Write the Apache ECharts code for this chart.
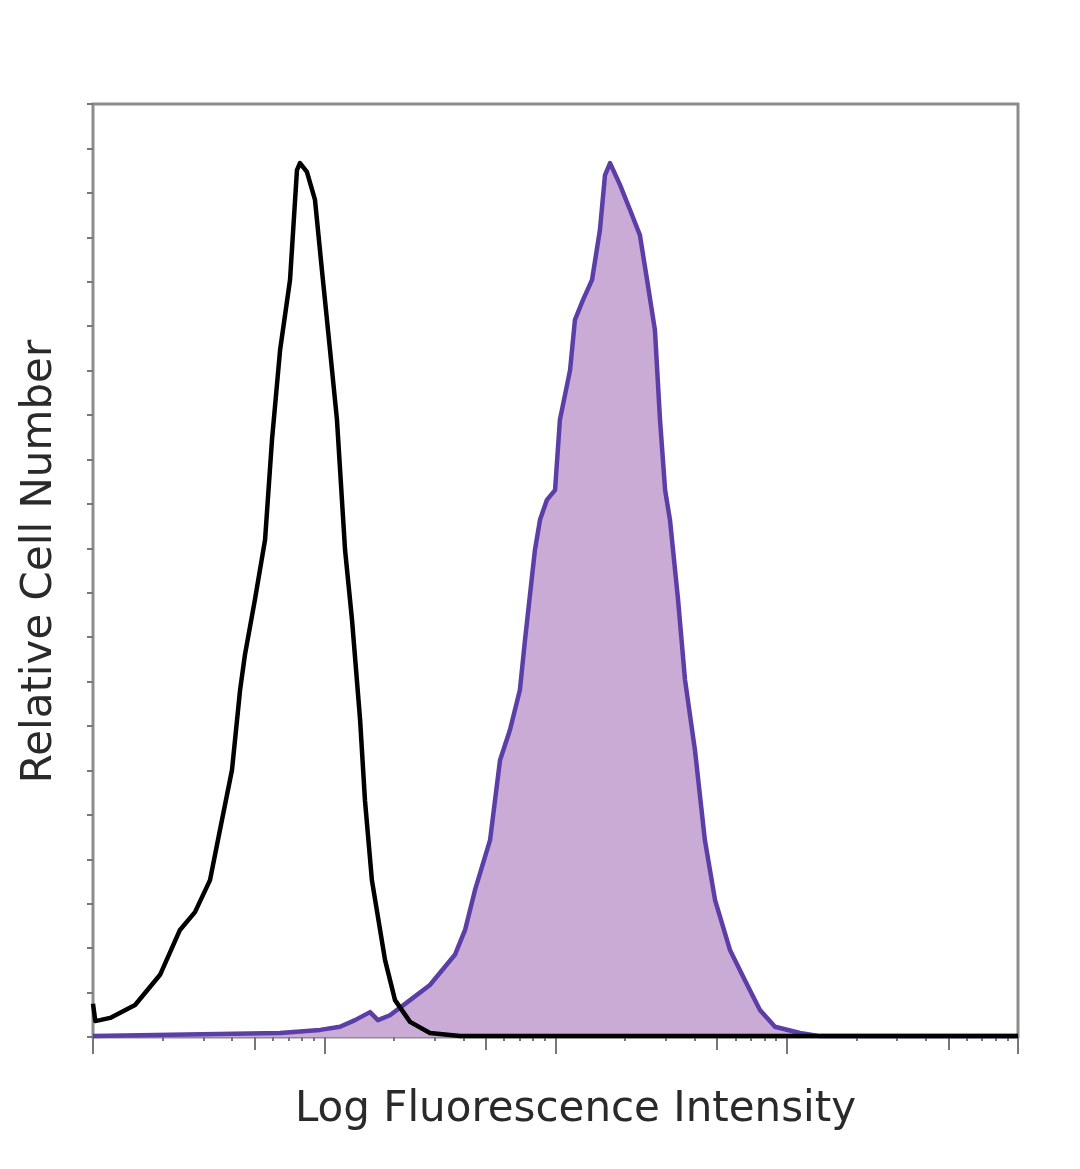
<!DOCTYPE html>
<html>
<head>
<meta charset="utf-8">
<script src="https://cdn.jsdelivr.net/npm/echarts@6/dist/echarts.min.js"></script>
<style>
html,body{margin:0;padding:0;background:#fff;}
#chart{width:1080px;height:1169px;}
</style>
</head>
<body>
<div id="chart"></div>
<script>
// x in log decades (0..4), y = relative cell count
const controlX = [0.00,0.01,0.030,0.074,0.182,0.290,0.376,0.441,0.506,0.549,0.601,0.636,0.657,0.700,0.744,0.774,0.809,0.852,0.882,0.895,0.925,0.960,0.990,1.025,1.055,1.090,1.120,1.155,1.176,1.206,1.263,1.306,1.371,1.457,1.587,4.0];
const controlY = [7.5,3.6,3.8,4.3,7.2,14.0,24.1,28.1,35.3,46.6,60.1,78.1,86.0,98.4,111.9,134.4,154.6,170.4,195.1,196.7,194.7,188.4,172.6,154.6,138.9,109.6,93.9,71.4,53.3,35.3,17.3,8.3,3.4,0.9,0.2,0.2];

const stainedX = [0.0,0.809,0.982,1.068,1.133,1.198,1.232,1.284,1.371,1.457,1.565,1.609,1.652,1.717,1.760,1.803,1.846,1.868,1.911,1.933,1.963,1.998,2.019,2.063,2.084,2.119,2.158,2.192,2.214,2.236,2.279,2.322,2.365,2.396,2.430,2.452,2.474,2.495,2.530,2.560,2.603,2.646,2.690,2.755,2.819,2.884,2.949,3.057,3.144,4.0];
const stainedY = [0.2,0.9,1.6,2.3,3.8,5.6,3.8,4.9,8.3,11.7,18.5,24.1,33.1,44.3,62.3,69.1,78.1,89.3,109.6,116.4,120.9,123.1,138.9,150.1,161.4,165.9,170.4,181.6,194.0,196.7,191.8,186.2,180.5,170.4,159.1,138.9,123.1,116.4,98.4,80.4,64.6,44.3,30.8,19.5,12.8,6.1,2.3,0.9,0.2,0.2];

const decades = [0,1,2,3,4];
const fiveTicks = [0,1,2,3].map(d => d + Math.log10(5));
const minorTicks = [];
[0,1,2,3].forEach(d => [2,3,4,6,7,8,9].forEach(k => minorTicks.push(d + Math.log10(k))));

const xTitle = 'Log Fluorescence Intensity';
const yTitle = 'Relative Cell Number';

const zip = (xs, ys) => xs.map((x, i) => [x, ys[i]]);

const chart = echarts.init(document.getElementById('chart'), null, {renderer: 'canvas'});

function xAx(ticks, len, extra) {
  return Object.assign({
    type: 'value', min: 0, max: 4, position: 'bottom',
    axisLine: {show: false},
    axisLabel: {show: false},
    splitLine: {show: false},
    axisTick: {show: true, customValues: ticks, length: len, lineStyle: {color: '#777', width: 2}}
  }, extra || {});
}

chart.setOption({
  animation: false,
  backgroundColor: '#fff',
  grid: {left: 93, right: 62, top: 104, bottom: 132, show: true, borderColor: '#8c8c8c', borderWidth: 3, backgroundColor: '#fff'},
  xAxis: [
    xAx(decades, 17, {
      name: xTitle, nameLocation: 'middle', nameGap: 52,
      nameTextStyle: {fontFamily: 'DejaVu Sans', fontSize: 42, color: '#2a2a2a', padding: [0, 0, 0, 40]}
    }),
    xAx(fiveTicks, 13),
    xAx(minorTicks, 4)
  ],
  yAxis: {
    type: 'value', min: 0, max: 210, interval: 10,
    axisLine: {show: false},
    axisLabel: {show: false},
    splitLine: {show: false},
    axisTick: {show: true, length: 6, lineStyle: {color: '#777', width: 2}},
    name: yTitle, nameLocation: 'middle', nameGap: 32,
    nameTextStyle: {fontFamily: 'DejaVu Sans', fontSize: 42, color: '#2a2a2a', padding: [0, 0, 0, 18]}
  },
  series: [
    {
      type: 'line', xAxisIndex: 0, data: zip(stainedX, stainedY), showSymbol: false, smooth: false,
      lineStyle: {color: '#5b3fa6', width: 4.5, join: 'round'},
      areaStyle: {color: '#c9abd5', opacity: 1},
      z: 2
    },
    {
      type: 'line', xAxisIndex: 0, data: zip(controlX, controlY), showSymbol: false, smooth: false,
      lineStyle: {color: '#000', width: 4.5, join: 'round'},
      z: 3
    }
  ]
});
</script>
</body>
</html>
